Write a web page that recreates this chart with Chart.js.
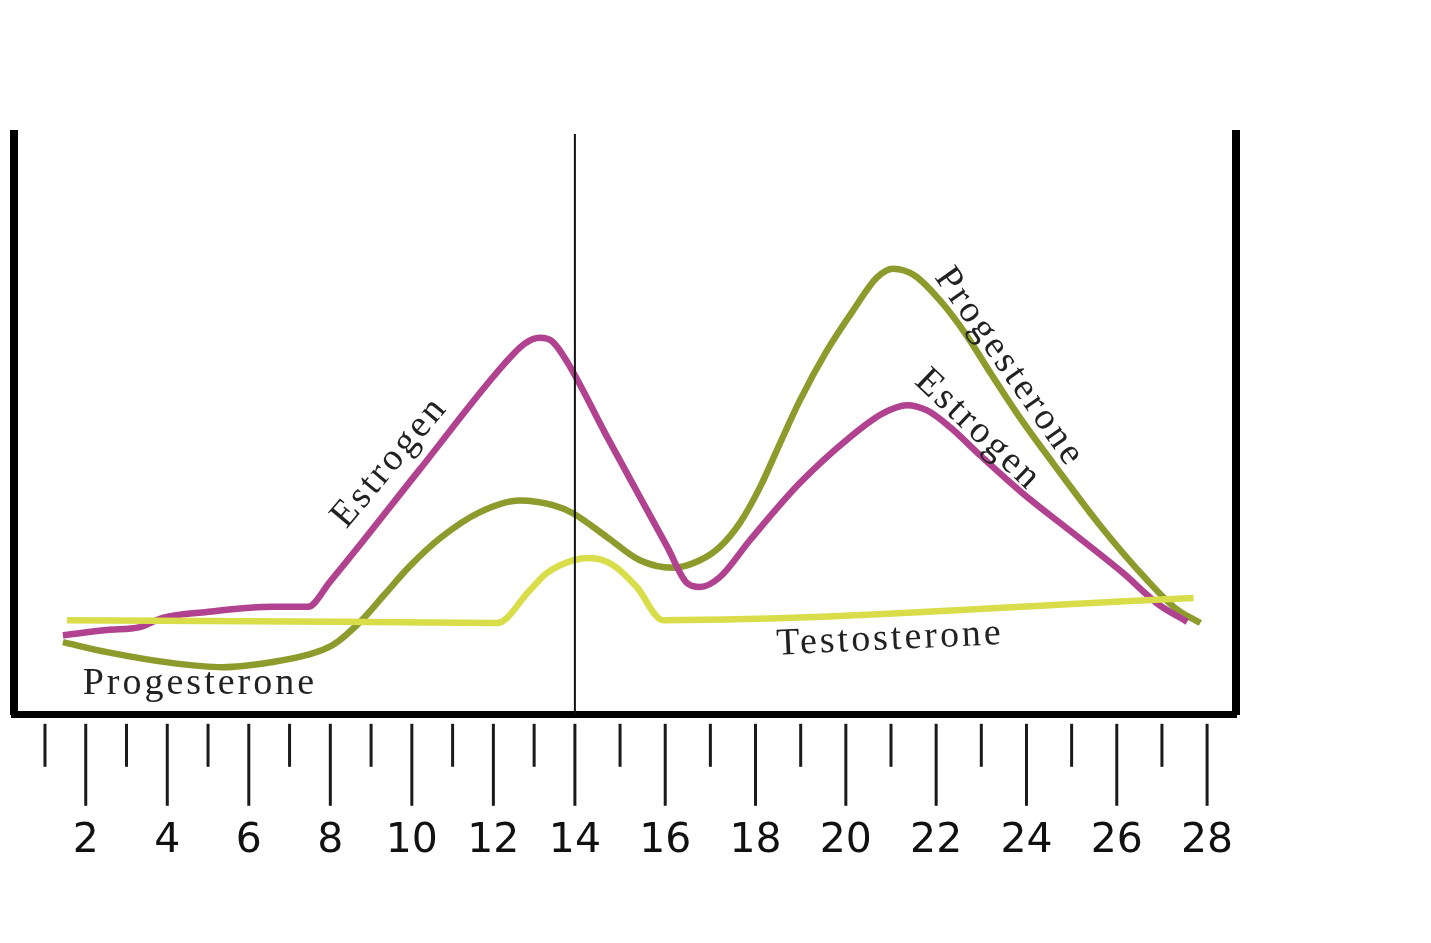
<!DOCTYPE html>
<html>
<head>
<meta charset="utf-8">
<script src="https://cdn.jsdelivr.net/npm/chart.js@4/dist/chart.umd.min.js"></script>
<style>
  body { margin: 0; background: #fff; }
  canvas { display: block; }
</style>
</head>
<body>
<canvas id="cycle" width="1431" height="943"></canvas>
<script>
// day of cycle (x) and relative hormone level (y, 0-100)
const estrogenDays = [1.44, 2.52, 3.33, 3.89, 4.97, 6.59, 7.45, 7.99, 10.2, 12.28, 12.77, 13.14, 13.46, 13.85, 14.71, 15.44, 16.04, 16.48, 16.77, 17.21, 17.88, 18.98, 20.09, 20.82, 21.35, 21.8, 22.31, 22.97, 23.92, 25.03, 26.14, 26.89, 27.56];
const estrogenLevels = [13.7, 14.6, 15.1, 16.7, 17.7, 18.6, 18.6, 22.9, 42.3, 60.5, 63.9, 64.9, 64.2, 60.3, 47.9, 37.5, 29.0, 22.7, 22.0, 23.7, 30.1, 39.9, 47.8, 51.9, 53.3, 52.4, 49.5, 44.7, 38.1, 31.3, 24.4, 19.2, 16.0];

const progesteroneDays = [1.44, 2.52, 4.14, 5.37, 6.59, 7.43, 8.06, 8.73, 9.34, 9.95, 10.69, 11.67, 12.65, 13.46, 13.95, 14.71, 15.44, 16.17, 16.77, 17.21, 17.65, 18.1, 18.47, 18.98, 19.58, 20.16, 20.69, 21.05, 21.53, 22.09, 22.65, 23.2, 23.87, 24.59, 25.63, 26.67, 27.29, 27.85];
const progesteroneLevels = [12.5, 10.8, 8.9, 8.2, 9.1, 10.3, 12.0, 16.0, 20.8, 25.6, 30.4, 34.9, 36.9, 36.1, 34.7, 30.6, 26.6, 25.3, 26.6, 28.9, 33.0, 39.2, 45.5, 54.1, 62.7, 69.6, 75.3, 76.8, 75.6, 71.3, 65.6, 58.9, 51.0, 43.3, 32.6, 23.2, 18.4, 15.8];

const testosteroneDays = [1.54, 8.24, 12.09, 12.9, 13.31, 13.95, 14.33, 14.84, 15.37, 15.95, 27.7];
const testosteroneLevels = [16.3, 16.0, 15.8, 21.5, 24.4, 26.6, 27.0, 25.8, 22.0, 16.3, 20.1];

const ovulationDay = 14;
const tickDays = [2, 4, 6, 8, 10, 12, 14, 16, 18, 20, 22, 24, 26, 28];
const allDays = [1, 2, 3, 4, 5, 6, 7, 8, 9, 10, 11, 12, 13, 14, 15, 16, 17, 18, 19, 20, 21, 22, 23, 24, 25, 26, 27, 28];

// text written along the curves: [text, day, level, angle in degrees]
const curveNotes = [
  ['Estrogen', 9.46, 43.5, -50],
  ['Progesterone', 4.8, 5.3, 0],
  ['Testosterone', 20.98, 13.0, -2.7],
  ['Progesterone', 23.62, 59.8, 55],
  ['Estrogen', 22.93, 49.0, 43.5]
];

const toPoints = (xs, ys) => xs.map((x, i) => ({ x: x, y: ys[i] }));

// the drawn ruler is a bit tighter before day 14 than after it
const BREAK_FRAC = 0.459;
class DayScale extends Chart.LinearScale {
  toDecimal(v) {
    if (v <= ovulationDay) return (v - this.min) / (ovulationDay - this.min) * BREAK_FRAC;
    return BREAK_FRAC + (v - ovulationDay) / (this.max - ovulationDay) * (1 - BREAK_FRAC);
  }
  getPixelForValue(value) {
    if (value === null || isNaN(value)) return NaN;
    return this.getPixelForDecimal(this.toDecimal(value));
  }
  getValueForPixel(pixel) {
    const d = this.getDecimalForPixel(pixel);
    if (d <= BREAK_FRAC) return this.min + d / BREAK_FRAC * (ovulationDay - this.min);
    return ovulationDay + (d - BREAK_FRAC) / (1 - BREAK_FRAC) * (this.max - ovulationDay);
  }
}
DayScale.id = 'days';
DayScale.defaults = Chart.LinearScale.defaults;
Chart.register(DayScale);

const rulerTicks = {
  id: 'rulerTicks',
  afterDraw(chart) {
    const ctx = chart.ctx;
    const xs = chart.scales.x;
    const top = chart.chartArea.bottom + 9;
    ctx.save();
    ctx.strokeStyle = '#1a1a1a';
    ctx.lineWidth = 3;
    allDays.forEach(d => {
      const px = xs.getPixelForValue(d);
      ctx.beginPath();
      ctx.moveTo(px, top);
      ctx.lineTo(px, top + (d % 2 === 0 ? 82 : 43));
      ctx.stroke();
    });
    ctx.restore();
  }
};

const notes = {
  id: 'notes',
  afterDatasetsDraw(chart) {
    const ctx = chart.ctx;
    ctx.save();
    ctx.font = '38px "Liberation Serif", serif';
    ctx.letterSpacing = '3px';
    ctx.fillStyle = '#222';
    ctx.textAlign = 'center';
    ctx.textBaseline = 'middle';
    curveNotes.forEach(n => {
      const px = chart.scales.x.getPixelForValue(n[1]);
      const py = chart.scales.y.getPixelForValue(n[2]);
      ctx.save();
      ctx.translate(px, py);
      ctx.rotate(n[3] * Math.PI / 180);
      ctx.fillText(n[0], 0, 0);
      ctx.restore();
    });
    ctx.restore();
  }
};

const curve = (data, color) => ({
  data: data,
  borderColor: color,
  borderWidth: 6.5,
  pointRadius: 0,
  fill: false,
  cubicInterpolationMode: 'monotone',
  borderJoinStyle: 'round',
  order: 1
});

const ctx = document.getElementById('cycle');
new Chart(ctx, {
  type: 'line',
  data: {
    datasets: [
      curve(toPoints(testosteroneDays, testosteroneLevels), '#d9dd4a'),
      curve(toPoints(estrogenDays, estrogenLevels), '#b0428f'),
      curve(toPoints(progesteroneDays, progesteroneLevels), '#8c9b2c'),
      {
        data: [{ x: ovulationDay, y: 0 }, { x: ovulationDay, y: 100 }],
        borderColor: '#111',
        borderWidth: 2,
        pointRadius: 0,
        tension: 0,
        order: 0
      }
    ]
  },
  options: {
    responsive: false,
    animation: false,
    events: [],
    layout: { padding: { left: 14, right: 195, top: 134, bottom: 74 } },
    plugins: { legend: { display: false }, tooltip: { enabled: false } },
    scales: {
      x: {
        type: 'days',
        min: 0.24,
        max: 28.64,
        afterBuildTicks: (scale) => { scale.ticks = tickDays.map(v => ({ value: v })); },
        grid: { display: false, drawTicks: true, tickLength: 99 },
        border: { display: true, color: '#000', width: 7 },
        ticks: {
          autoSkip: false,
          maxRotation: 0,
          padding: 3,
          color: '#111',
          font: { family: '"DejaVu Sans", sans-serif', size: 41 },
          callback: (v) => String(v)
        }
      },
      y: {
        position: 'left',
        min: 0,
        max: 100,
        grid: { display: false, drawTicks: false },
        border: { display: true, color: '#000', width: 8 },
        ticks: { display: false }
      },
      y2: {
        position: 'right',
        min: 0,
        max: 100,
        grid: { display: false, drawTicks: false },
        border: { display: true, color: '#000', width: 8 },
        ticks: { display: false }
      }
    }
  },
  plugins: [rulerTicks, notes]
});
</script>
</body>
</html>
